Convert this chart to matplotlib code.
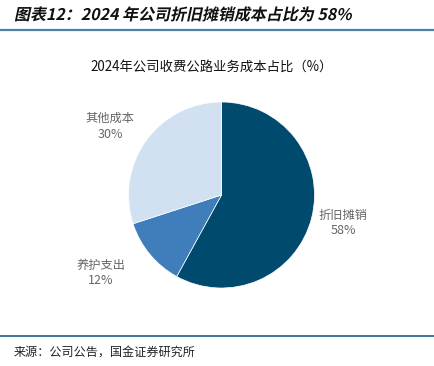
import matplotlib
matplotlib.use("Agg")
import matplotlib.pyplot as plt
from matplotlib.lines import Line2D
from matplotlib.patheffects import AbstractPathEffect
from matplotlib.transforms import Affine2D

plt.rcParams['font.family'] = ['Noto Sans CJK SC', 'DejaVu Sans']

categories = ['折旧摊销', '养护支出', '其他成本']
values = [58, 12, 30]
colors = ['#004A6E', '#3F7EBB', '#D1E1F1']
title = '图表12：2024 年公司折旧摊销成本占比为 58%'
subtitle = '2024年公司收费公路业务成本占比（%）'
source = '来源：公司公告，国金证券研究所'


class Oblique(AbstractPathEffect):
    """Slant glyphs to imitate an italic face (CJK fonts have none)."""
    def __init__(self, deg=12):
        super().__init__()
        self._deg = deg

    def draw_path(self, renderer, gc, tpath, affine, rgbFace=None):
        renderer.draw_path(gc, tpath, Affine2D().skew_deg(self._deg, 0) + affine, rgbFace)


W, H = 435, 366
fig = plt.figure(figsize=(W / 100, H / 100), dpi=100)

# header and footer
fig.text(14 / W, 1 - 15 / H, title, fontsize=11.5, fontweight='bold',
         color='#111111', va='center', ha='left', path_effects=[Oblique(12)])
fig.add_artist(Line2D([0, 1], [1 - 29.5 / H] * 2, color='#4B82A3', lw=1.6))
fig.add_artist(Line2D([0, 1], [1 - 335.5 / H] * 2, color='#1E5F8E', lw=1.2))
fig.text(14 / W, 1 - 352 / H, source, fontsize=8.7, color='#222222',
         va='center', ha='left')
fig.text(212 / W, 1 - 67 / H, subtitle, fontsize=9.6, color='#111111',
         va='center', ha='center')

cx, cy, r = 221.5, 195, 93
ax = fig.add_axes([(cx - r) / W, (H - cy - r) / H, 2 * r / W, 2 * r / H])
ax.pie(values, colors=colors, startangle=90, counterclock=False, radius=1,
       wedgeprops=dict(linewidth=0.5, edgecolor='white'))
ax.set_xlim(-1, 1)
ax.set_ylim(-1, 1)
ax.set_aspect('equal')
ax.axis('off')

label_pos = {'折旧摊销': (343, 215), '养护支出': (101, 265), '其他成本': (110, 118)}
for cat, v in zip(categories, values):
    x, y = label_pos[cat]
    fig.text(x / W, 1 - y / H, cat, fontsize=8.8, color='#666666',
             ha='center', va='center')
    fig.text(x / W, 1 - (y + 16) / H, f'{v}%', fontsize=9, color='#666666',
             ha='center', va='center')

fig.savefig('out.png', dpi=100)
